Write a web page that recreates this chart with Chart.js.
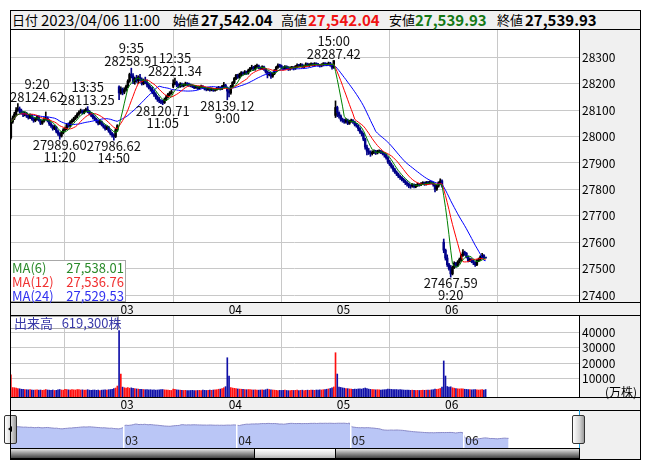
<!DOCTYPE html>
<html lang="ja">
<head>
<meta charset="utf-8">
<title>日経平均 5分足</title>
<script src="https://cdn.jsdelivr.net/npm/chart.js@4.4.1/dist/chart.umd.min.js"></script>
<style>
  html, body { margin: 0; padding: 0; background: #fff; }
  body { position: relative; width: 653px; height: 470px; overflow: hidden;
         font-family: "Noto Sans CJK JP", "Noto Sans", sans-serif; color: #000; }
  .abs { position: absolute; }
  .frameBg { left: 10px; top: 10px; width: 631px; height: 450px; background: #f0f0f0; }
  .frameLine { left: 10px; top: 10px; width: 631px; height: 450px; box-sizing: border-box;
               border: 1px solid #000; z-index: 20; }
  .white { background: #fff; }
  .hline { left: 10px; width: 631px; height: 1px; background: #000; z-index: 9; }
  canvas { position: absolute; z-index: 2; }
  .head { top: 10px; height: 19px; line-height: 20px; font-size: 15px; white-space: nowrap; z-index: 11; }
  .lab { font-size: 13px; }
  .b { font-weight: bold; }
  .maBox { left: 10px; top: 260px; width: 116px; height: 42px; box-sizing: border-box;
           border: 1px solid #a8a8a8; background: #fff; z-index: 12; font-size: 13px; }
  .maRow { display: flex; justify-content: space-between; height: 14px; line-height: 14px; padding: 0 1px 0 1px; }
  .volBox { left: 10px; top: 316px; width: 109px; height: 13px; box-sizing: border-box; border: 1px solid #a8a8a8;
            background: #fff; z-index: 12; font-size: 13px; line-height: 11px; color: #3a3aa8; white-space: nowrap; }
  .unit { right: 16px; top: 384px; font-size: 12px; line-height: 15px; z-index: 12; }
  .handle { top: 415px; width: 13px; height: 29px; box-sizing: border-box; border: 1px solid #333; border-radius: 2px;
            background: linear-gradient(to right, #ffffff, #d4d4d4 60%, #9a9a9a); z-index: 14; }
  .tri { left: 3px; top: 10px; width: 0; height: 0; border-top: 3px solid transparent; border-bottom: 3px solid transparent;
         border-right: 4px solid #000; }
  .cyan { width: 1px; top: 410px; height: 38px; background: #1ea0e0; z-index: 13; }
  .track { left: 10px; top: 448px; width: 570px; height: 11px; box-sizing: border-box; border: 1px solid #000;
           background: linear-gradient(to bottom, #e4e4e4 0%, #9a9a9a 45%, #444 100%); z-index: 13; }
  .thumb { left: 254px; top: 448px; width: 82px; height: 11px; box-sizing: border-box; border: 1px solid #000;
           background: linear-gradient(to bottom, #ffffff, #dcdcdc 60%, #b4b4b4); z-index: 14; }
</style>
</head>
<body>
<div class="abs frameBg"></div>
<div class="abs white" style="left:11px;top:30px;width:568px;height:272px"></div>
<div class="abs white" style="left:11px;top:316px;width:568px;height:81px"></div>
<div class="abs white" style="left:11px;top:411px;width:568px;height:37px"></div>
<div class="abs hline" style="top:29px"></div>
<div class="abs hline" style="top:302px"></div>
<div class="abs hline" style="top:315px"></div>
<div class="abs hline" style="top:397px"></div>
<div class="abs hline" style="top:410px"></div>

<div class="abs head lab" style="left:12px">日付</div>
<div class="abs head" style="left:41px">2023/04/06 11:00</div>
<div class="abs head lab" style="left:173px">始値</div>
<div class="abs head b" style="left:201px">27,542.04</div>
<div class="abs head lab" style="left:281px">高値</div>
<div class="abs head b" style="left:308px;color:#f01414">27,542.04</div>
<div class="abs head lab" style="left:389px">安値</div>
<div class="abs head b" style="left:415px;color:#147814">27,539.93</div>
<div class="abs head lab" style="left:497px">終値</div>
<div class="abs head b" style="left:525px">27,539.93</div>

<canvas id="priceChart" width="630" height="285" style="left:10px;top:30px"></canvas>
<canvas id="volumeChart" width="630" height="95" style="left:10px;top:315px"></canvas>
<canvas id="navChart" width="569" height="38" style="left:10px;top:410px"></canvas>

<div class="abs maBox" id="maBox"></div>
<div class="abs volBox">&nbsp;出来高&nbsp;&nbsp;&nbsp;619,300株</div>
<div class="abs unit">(万株)</div>

<div class="abs cyan" style="left:10px"></div>
<div class="abs cyan" style="left:579px"></div>
<div class="abs handle" style="left:4px"><div class="abs tri"></div></div>
<div class="abs handle" style="left:572px"></div>
<div class="abs track"></div>
<div class="abs thumb"></div>
<div class="abs frameLine"></div>

<script>
// 5分足 03/31 〜 04/06 11:00 (1日 62本, 最終日は 25本)
const dayLabels = ['03', '04', '05', '06'];
const dayStarts = [62, 124, 186, 248];
const priceTicks = [27400, 27500, 27600, 27700, 27800, 27900, 28000, 28100, 28200, 28300];
const volumeTicks = [10000, 20000, 30000, 40000];

const opens = [
  // 03/31
  27995,28055,28070,28085,28100,28105,28098,28090,28082,28088,
  28078,28072,28080,28068,28060,28066,28075,28062,28050,28058,
  28066,28070,28060,28048,28040,28030,28036,28020,28010,28002,
  28015,28025,28030,28045,28040,28055,28060,28068,28075,28085,
  28092,28098,28090,28097,28102,28095,28088,28080,28072,28066,
  28058,28050,28056,28045,28038,28030,28036,28022,28012,28005,
  28000,28025,
  // 04/03
  28188,28165,28180,28168,28178,28190,28210,28235,28230,28208,
  28220,28212,28225,28215,28200,28212,28205,28195,28185,28180,
  28170,28160,28150,28140,28135,28130,28128,28140,28150,28160,
  28165,28190,28200,28205,28195,28190,28198,28192,28196,28200,
  28198,28195,28192,28190,28185,28188,28182,28186,28190,28185,
  28180,28178,28182,28176,28180,28175,28178,28183,28185,28180,
  28190,28195,
  // 04/04
  28185,28172,28165,28190,28205,28220,28232,28225,28235,28242,
  28238,28245,28240,28250,28258,28262,28255,28265,28268,28260,
  28258,28264,28255,28245,28235,28240,28228,28238,28250,28262,
  28270,28268,28262,28258,28265,28262,28255,28260,28262,28258,
  28265,28270,28268,28272,28265,28268,28275,28270,28272,28275,
  28270,28276,28274,28270,28268,28272,28276,28275,28273,28278,
  28270,28262,
  // 04/05
  28080,28110,28090,28078,28065,28060,28055,28062,28050,28058,
  28060,28055,28045,28040,28030,28018,28010,27990,27960,27945,
  27940,27935,27940,27945,27938,27942,27945,27940,27935,27930,
  27920,27905,27895,27885,27875,27865,27858,27850,27845,27838,
  27832,27825,27820,27815,27812,27818,27810,27815,27820,27818,
  27822,27825,27820,27826,27824,27828,27825,27818,27800,27812,
  27825,27832,
  // 04/06
  27600,27570,27540,27515,27500,27480,27505,27520,27512,27525,
  27535,27550,27562,27558,27545,27530,27535,27528,27522,27515,
  27530,27535,27545,27550,27542.04
];

const highs = [
  28062,28078,28092,28110,28124.62,28112,28104,28095,28094,28092,
  28084,28086,28083,28072,28071,28080,28078,28066,28063,28072,
  28093,28074,28064,28053,28044,28042,28039,28024,28015,28020,
  28030,28036,28050,28052,28060,28066,28073,28080,28090,28097,
  28104,28101,28102,28108,28113.25,28099,28092,28085,28078,28070,
  28062,28062,28059,28049,28042,28041,28039,28026,28016,28010,
  28030,28045,

  28192,28188,28184,28185,28195,28215,28240,28258.91,28238,28225,
  28232,28230,28236,28222,28218,28225,28215,28200,28192,28186,
  28176,28166,28155,28148,28140,28138,28146,28156,28164,28170,
  28175,28215,28221.34,28210,28200,28204,28202,28200,28206,28204,
  28202,28199,28196,28194,28193,28191,28190,28195,28193,28188,
  28184,28186,28185,28184,28183,28182,28187,28190,28188,28194,
  28205,28198,

  28188,28180,28194,28208,28224,28236,28236,28240,28246,28245,
  28250,28248,28255,28262,28270,28266,28270,28274,28271,28264,
  28268,28267,28258,28249,28244,28243,28242,28254,28266,28275,
  28274,28271,28265,28269,28268,28265,28264,28266,28265,28269,
  28275,28273,28277,28275,28271,28279,28278,28276,28279,28278,
  28280,28279,28277,28273,28276,28280,28279,28278,28282,28281,
  28274,28287.42,

  28135,28115,28094,28082,28070,28066,28068,28066,28062,28066,
  28064,28058,28050,28044,28034,28022,28014,27994,27968,27955,
  27946,27946,27950,27948,27948,27950,27948,27944,27939,27934,
  27924,27910,27900,27890,27880,27870,27862,27854,27848,27842,
  27836,27829,27824,27818,27822,27821,27819,27824,27823,27826,
  27829,27828,27830,27830,27832,27831,27828,27820,27816,27829,
  27840,27836,

  27612,27574,27552,27520,27512,27510,27526,27524,27530,27540,
  27555,27572,27566,27561,27548,27540,27538,27532,27526,27534,
  27540,27549,27558,27553,27542.04
];

const lows = [
  27990,28050,28064,28080,28095,28090,28085,28075,28078,28072,
  28066,28068,28062,28054,28056,28062,28058,28045,28046,28054,
  28062,28055,28042,28035,28024,28026,28014,28004,27989.60,27998,
  28010,28020,28026,28035,28036,28050,28056,28064,28071,28080,
  28088,28085,28086,28093,28090,28082,28075,28067,28060,28052,
  28044,28046,28040,28032,28024,28026,28016,28006,27998,27986.62,
  27996,28020,

  28140,28160,28158,28162,28172,28185,28205,28222,28200,28198,
  28205,28200,28210,28195,28196,28200,28188,28180,28172,28162,
  28152,28142,28133,28128,28124,28120.71,28125,28136,28146,28154,
  28160,28185,28196,28188,28184,28186,28188,28188,28192,28193,
  28190,28188,28185,28181,28182,28178,28179,28183,28181,28176,
  28173,28175,28172,28173,28171,28172,28175,28179,28176,28177,
  28186,28184,

  28139.12,28150,28160,28186,28200,28215,28220,28221,28230,28232,
  28234,28235,28236,28246,28254,28250,28251,28260,28256,28253,
  28254,28250,28240,28222,28230,28220,28224,28234,28246,28258,
  28262,28256,28252,28254,28256,28250,28251,28256,28252,28254,
  28261,28264,28264,28261,28261,28264,28266,28265,28268,28266,
  28266,28270,28266,28263,28264,28268,28270,28268,28270,28266,
  28255,28258,

  28072,28075,28070,28058,28054,28050,28051,28045,28046,28054,
  28050,28040,28035,28022,28012,28002,27984,27952,27930,27932,
  27925,27930,27935,27932,27934,27938,27935,27930,27922,27914,
  27898,27890,27880,27868,27860,27852,27844,27838,27832,27826,
  27818,27812,27806,27804,27808,27805,27806,27811,27812,27814,
  27818,27815,27816,27819,27820,27820,27812,27790,27796,27808,
  27821,27808,

  27560,27532,27508,27494,27467.59,27476,27500,27505,27508,27520,
  27530,27546,27550,27540,27525,27526,27522,27515,27508,27511,
  27526,27531,27541,27538,27539.93
];

const closes = [
  28055,28070,28085,28100,28105,28098,28090,28082,28088,28078,
  28072,28080,28068,28060,28066,28075,28062,28050,28058,28066,
  28070,28060,28048,28040,28030,28036,28020,28010,28002,28015,
  28025,28030,28045,28040,28055,28060,28068,28075,28085,28092,
  28098,28090,28097,28102,28095,28088,28080,28072,28066,28058,
  28050,28056,28045,28038,28030,28036,28022,28012,28005,28000,
  28025,28041.48,

  28165,28180,28168,28178,28190,28210,28235,28230,28208,28220,
  28212,28225,28215,28200,28212,28205,28195,28185,28180,28170,
  28160,28150,28140,28135,28130,28128,28140,28150,28160,28165,
  28170,28200,28205,28195,28190,28198,28192,28196,28200,28198,
  28195,28192,28190,28185,28188,28182,28186,28190,28185,28180,
  28178,28182,28176,28180,28175,28178,28183,28185,28180,28190,
  28195,28188.15,

  28172,28165,28190,28205,28220,28232,28225,28235,28242,28238,
  28245,28240,28250,28258,28262,28255,28265,28268,28260,28258,
  28264,28255,28245,28235,28240,28228,28238,28250,28262,28270,
  28268,28262,28258,28265,28262,28255,28260,28262,28258,28265,
  28270,28268,28272,28265,28268,28275,28270,28272,28275,28270,
  28276,28274,28270,28268,28272,28276,28275,28273,28278,28270,
  28262,28287.42,

  28110,28090,28078,28065,28060,28055,28062,28050,28058,28060,
  28055,28045,28040,28030,28018,28010,27990,27960,27945,27940,
  27935,27940,27945,27938,27942,27945,27940,27935,27930,27920,
  27905,27895,27885,27875,27865,27858,27850,27845,27838,27832,
  27825,27820,27815,27812,27818,27810,27815,27820,27818,27822,
  27825,27820,27826,27824,27828,27825,27818,27800,27812,27825,
  27832,27813.26,

  27570,27540,27515,27500,27480,27505,27520,27512,27525,27535,
  27550,27562,27558,27545,27530,27535,27528,27522,27515,27530,
  27535,27545,27550,27542.04,27539.93
];

// 出来高 (軸の単位で読み取り)
const volumes = [
  12200,3900,3800,3600,3300,3100,2800,2700,2600,2500,
  2400,2500,2300,2200,2300,2400,2200,2300,2100,2200,
  2600,2300,2200,2100,2300,2000,2100,2400,2600,2300,
  2200,2800,2600,2400,2300,2500,2400,2300,2600,2500,
  2300,2400,2200,2300,2500,2200,2100,2200,2300,2100,
  2200,2000,2200,2300,2400,2200,2500,2600,2800,3200,
  3600,4900,

  41300,12800,4200,3800,3600,3900,3500,3700,3400,3200,
  3000,2900,2800,2700,2600,2500,2600,2400,2500,2300,
  2400,2200,2300,2400,2500,2600,2400,2300,2200,2100,
  2000,2900,2700,2400,2300,2200,2100,2000,2100,2000,
  1900,2000,2100,2000,1900,2000,2100,2000,2200,2100,
  2000,2100,2200,2100,2300,2400,2500,2800,2900,3300,
  3800,4500,

  23500,11500,3900,3600,3400,3200,3000,2900,2800,2700,
  2600,2500,2600,2500,2400,2300,2400,2300,2200,2300,
  2400,2200,2500,2900,2600,2400,2300,2200,2100,2000,
  2100,2000,2100,2200,2000,1900,2000,2100,2000,2100,
  2200,2000,2100,2200,2000,2100,2200,2100,2300,2200,
  2100,2300,2200,2400,2300,2500,2600,2800,3000,3300,
  3800,4300,

  26800,12800,4300,4000,3700,3500,3300,3200,3000,2900,
  2800,2900,2800,3000,3100,2900,3300,3600,3200,2900,
  2700,2600,2500,2400,2500,2400,2300,2400,2500,2600,
  2900,2800,2700,2600,2500,2600,2400,2500,2400,2300,
  2200,2300,2200,2100,2200,2100,2000,2100,2000,2100,
  2200,2100,2200,2300,2200,2400,2500,2900,2700,2900,
  3300,4300,

  21400,11500,4600,4200,4400,3800,3500,3300,3100,3000,
  3100,3000,2800,2700,2600,2500,2400,2500,2600,2400,
  2300,2400,2500,2300,2600
];

// 高値・安値の注記
const markIndex = [4, 28, 44, 59, 69, 87, 94, 124, 185, 252];
const markTime = ['9:20', '11:20', '13:35', '14:50', '9:35', '11:05', '12:35', '9:00', '15:00', '9:20'];
const markSide = ['high', 'low', 'high', 'low', 'high', 'low', 'high', 'low', 'high', 'low'];

const maPeriods = [6, 12, 24];
const maColors = ['#008000', '#ff0000', '#0000ff'];
const maTextColors = ['#2a8a2a', '#f03030', '#3030f0'];
const maLegendValues = ['27,538.01', '27,536.76', '27,529.53'];

// axis ranges
const MAIN_SLOTS = 326;
const NAV_SLOTS = 311;
const PRICE_MIN = 27373.5, PRICE_MAX = 28403.4;
const VOL_MIN = -2300, VOL_MAX = 51600;
const NAV_MIN = 27070, NAV_MAX = 28920;

Chart.defaults.font.family = '"Noto Sans CJK JP", "Noto Sans", sans-serif';
Chart.defaults.color = '#000';

const isUp = closes.map((c, i) => c >= opens[i]);
const candleColors = isUp.map(up => up ? '#000000' : '#000088');
const volumeColors = isUp.map(up => up ? '#ff1010' : '#1010a8');

function movingAverage(period) {
  return closes.map((c, i) => {
    const win = closes.slice(Math.max(0, i - period + 1), i + 1);
    return { x: i, y: win.reduce((a, b) => a + b, 0) / win.length };
  });
}

const gridColor = '#c8c8c8';

function dayAxis() {
  return {
    type: 'linear',
    min: -0.5,
    max: MAIN_SLOTS - 0.5,
    offset: false,
    afterBuildTicks: s => { s.ticks = dayStarts.map(v => ({ value: v })); },
    afterFit: s => { s.height = 13; s.paddingLeft = 0; s.paddingRight = 0; },
    grid: { color: gridColor, drawTicks: false },
    border: { color: '#000' },
    ticks: {
      autoSkip: false, maxRotation: 0, padding: 0, labelOffset: 8,
      font: { size: 12 },
      callback: (v, i) => dayLabels[i]
    }
  };
}

function rightAxis(min, max, values) {
  return {
    position: 'right',
    min: min,
    max: max,
    afterBuildTicks: s => { s.ticks = values.map(v => ({ value: v })); },
    afterFit: s => { s.width = 61; s.paddingTop = 0; s.paddingBottom = 0; },
    grid: { color: gridColor, drawTicks: false },
    border: { color: '#000' },
    ticks: { padding: 3, font: { size: 12 }, callback: v => String(v) }
  };
}

const markPlugin = {
  id: 'marks',
  afterDatasetsDraw(chart) {
    const { ctx, chartArea, scales: { x, y } } = chart;
    ctx.save();
    ctx.font = '13px "Noto Sans CJK JP", "Noto Sans", sans-serif';
    ctx.fillStyle = '#111';
    ctx.textAlign = 'center';
    ctx.textBaseline = 'middle';
    markIndex.forEach((idx, k) => {
      const high = markSide[k] === 'high';
      const value = high ? highs[idx] : lows[idx];
      const text = value.toFixed(2);
      const px = x.getPixelForValue(idx);
      const py = y.getPixelForValue(value);
      const half = Math.max(ctx.measureText(text).width, ctx.measureText(markTime[k]).width) / 2;
      const cx = Math.min(Math.max(px, chartArea.left + half), chartArea.right - half);
      if (high) {
        ctx.fillText(text, cx, py - 7);
        ctx.fillText(markTime[k], cx, py - 20);
      } else {
        ctx.fillText(text, cx, py + 6);
        ctx.fillText(markTime[k], cx, py + 18);
      }
    });
    ctx.restore();
  }
};

const common = {
  responsive: false,
  devicePixelRatio: 1,
  animation: false,
  events: [],
  layout: { padding: 0 },
  plugins: { legend: { display: false }, tooltip: { enabled: false } }
};

new Chart(document.getElementById('priceChart'), {
  type: 'bar',
  plugins: [markPlugin],
  data: {
    datasets: [
      ...maPeriods.map((p, k) => ({
        type: 'line',
        label: 'MA(' + p + ')',
        data: movingAverage(p),
        borderColor: maColors[k],
        borderWidth: 1,
        pointRadius: 0,
        tension: 0,
        order: k + 1
      })),
      {
        label: 'body',
        data: opens.map((o, i) => ({ x: i, y: [o, closes[i]] })),
        backgroundColor: candleColors,
        barThickness: 1.8,
        minBarLength: 1,
        grouped: false,
        order: 5
      },
      {
        label: 'wick',
        data: highs.map((h, i) => ({ x: i, y: [lows[i], h] })),
        backgroundColor: candleColors,
        barThickness: 1,
        grouped: false,
        order: 6
      }
    ]
  },
  options: {
    ...common,
    scales: { x: dayAxis(), y: rightAxis(PRICE_MIN, PRICE_MAX, priceTicks) }
  }
});

new Chart(document.getElementById('volumeChart'), {
  type: 'bar',
  data: {
    datasets: [{
      label: '出来高',
      data: volumes.map((v, i) => ({ x: i, y: v })),
      backgroundColor: volumeColors,
      barThickness: 1,
      base: VOL_MIN
    }]
  },
  options: {
    ...common,
    scales: { x: dayAxis(), y: rightAxis(VOL_MIN, VOL_MAX, volumeTicks) }
  }
});

const navLabels = {
  id: 'navLabels',
  afterDraw(chart) {
    const { ctx, scales: { x } } = chart;
    ctx.save();
    ctx.font = '12px "Noto Sans CJK JP", "Noto Sans", sans-serif';
    ctx.fillStyle = '#222';
    ctx.textBaseline = 'middle';
    dayStarts.forEach((d, k) => ctx.fillText(dayLabels[k], x.getPixelForValue(d - 0.5) + 1.5, 30.5));
    ctx.restore();
  }
};

new Chart(document.getElementById('navChart'), {
  type: 'line',
  plugins: [navLabels],
  data: {
    datasets: [{
      data: closes.map((c, i) => ({ x: i, y: c })),
      borderColor: '#8a8ac8',
      backgroundColor: '#bac6f6',
      borderWidth: 1,
      pointRadius: 0,
      fill: 'start'
    }]
  },
  options: {
    ...common,
    scales: {
      x: {
        type: 'linear', min: -0.5, max: NAV_SLOTS - 0.5,
        afterBuildTicks: s => { s.ticks = dayStarts.map(v => ({ value: v - 0.5 })); },
        afterFit: s => { s.height = 0; s.paddingLeft = 0; s.paddingRight = 0; },
        grid: { color: '#ffffff', lineWidth: 1.5, drawTicks: false, z: 1 },
        border: { display: false },
        ticks: { display: false }
      },
      y: { display: false, min: NAV_MIN, max: NAV_MAX }
    }
  }
});

// MA の凡例
const maBox = document.getElementById('maBox');
maPeriods.forEach((p, k) => {
  const row = document.createElement('div');
  row.className = 'maRow';
  row.style.color = maTextColors[k];
  row.innerHTML = '<span>MA(' + p + ')</span><span>' + maLegendValues[k] + '</span>';
  maBox.appendChild(row);
});
</script>
</body>
</html>
